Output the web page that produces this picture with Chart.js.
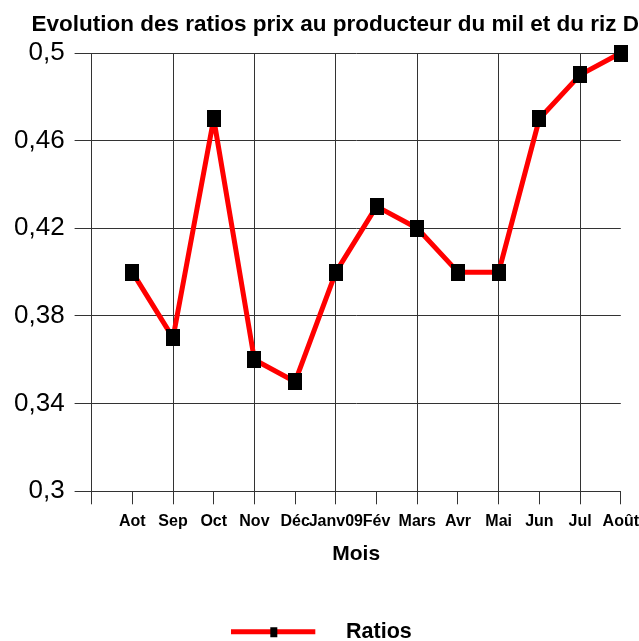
<!DOCTYPE html>
<html>
<head>
<meta charset="utf-8">
<script src="https://cdn.jsdelivr.net/npm/chart.js@4"></script>
<style>
  html, body { margin: 0; padding: 0; background: #fff; }
  #wrap { width: 639px; height: 641px; }
</style>
</head>
<body>
<div id="wrap"><canvas id="ratios"></canvas></div>
<script>
// months (first slot is left empty, like in the original chart)
var months = ['', 'Aot', 'Sep', 'Oct', 'Nov', 'Déc', 'Janv09', 'Fév', 'Mars', 'Avr', 'Mai', 'Jun', 'Jul', 'Août'];
var ratios = [null, 0.40, 0.37, 0.47, 0.36, 0.35, 0.40, 0.43, 0.42, 0.40, 0.40, 0.47, 0.49, 0.50];
var yMin = 0.3, yMax = 0.5, yStep = 0.04;

var FONT = "'Liberation Sans', Arial, sans-serif";

// black marker, a bit taller than wide
function makeMarker(w, h) {
	var c = document.createElement('canvas');
	c.width = w; c.height = h;
	var g = c.getContext('2d');
	g.fillStyle = '#000';
	g.fillRect(0, 0, w, h);
	return c;
}

// legend symbol: red line with small marker
function makeLegendSymbol() {
	var c = document.createElement('canvas');
	c.width = 104; c.height = 12;
	var g = c.getContext('2d');
	g.fillStyle = '#ff0000';
	g.fillRect(0, 3, 84, 5);
	g.fillStyle = '#000';
	g.fillRect(39, 1, 7, 10);
	return c;
}

var marker = makeMarker(14, 17);
var legendSymbol = makeLegendSymbol();

var ctx = document.getElementById('ratios');

var chart = new Chart(ctx, {
	type: 'line',
	data: {
		labels: months,
		datasets: [{
			label: 'Ratios',
			data: ratios,
			borderColor: '#ff0000',
			backgroundColor: '#000',
			borderWidth: 5,
			borderJoinStyle: 'bevel',
			tension: 0,
			pointStyle: marker,
			pointRadius: 8,
			pointHoverRadius: 8,
			clip: false
		}]
	},
	options: {
		responsive: true,
		maintainAspectRatio: false,
		animation: false,
		layout: {
			padding: { left: 4, right: 0, top: 0, bottom: -12 }
		},
		plugins: {
			title: {
				display: true,
				text: 'Evolution des ratios prix au producteur du mil et du riz D',
				align: 'end',
				color: '#000',
				font: { family: FONT, size: 22.5, weight: 'bold' },
				padding: { top: 11, bottom: 15 }
			},
			legend: {
				position: 'bottom',
				labels: {
					usePointStyle: true,
					pointStyle: legendSymbol,
					pointStyleWidth: 104,
					padding: 5,
					color: '#000',
					font: { family: FONT, size: 21.5, weight: 'bold' }
				}
			},
			tooltip: { enabled: false }
		},
		scales: {
			x: {
				type: 'category',
				offset: false,
				grid: {
					color: function(c) { return c.index % 2 === 0 ? '#333' : 'rgba(0,0,0,0)'; },
					tickColor: '#333',
					tickLength: 13,
					lineWidth: 1
				},
				border: { color: '#333' },
				ticks: {
					autoSkip: false,
					maxRotation: 0,
					padding: 0,
					color: '#000',
					font: { family: FONT, size: 16, weight: 'bold', lineHeight: 2.125 }
				},
				title: {
					display: true,
					text: 'Mois',
					color: '#000',
					font: { family: FONT, size: 21, weight: 'bold' },
					padding: { top: 3, bottom: 50 }
				}
			},
			y: {
				min: yMin,
				max: yMax,
				grid: {
					color: '#333',
					tickLength: 17,
					lineWidth: 1
				},
				border: { color: '#333' },
				ticks: {
					stepSize: yStep,
					padding: 10,
					color: '#000',
					font: { family: FONT, size: 26 },
					callback: function(v) {
						return String(Math.round(v * 100) / 100).replace('.', ',');
					}
				}
			}
		}
	}
});
</script>
</body>
</html>
